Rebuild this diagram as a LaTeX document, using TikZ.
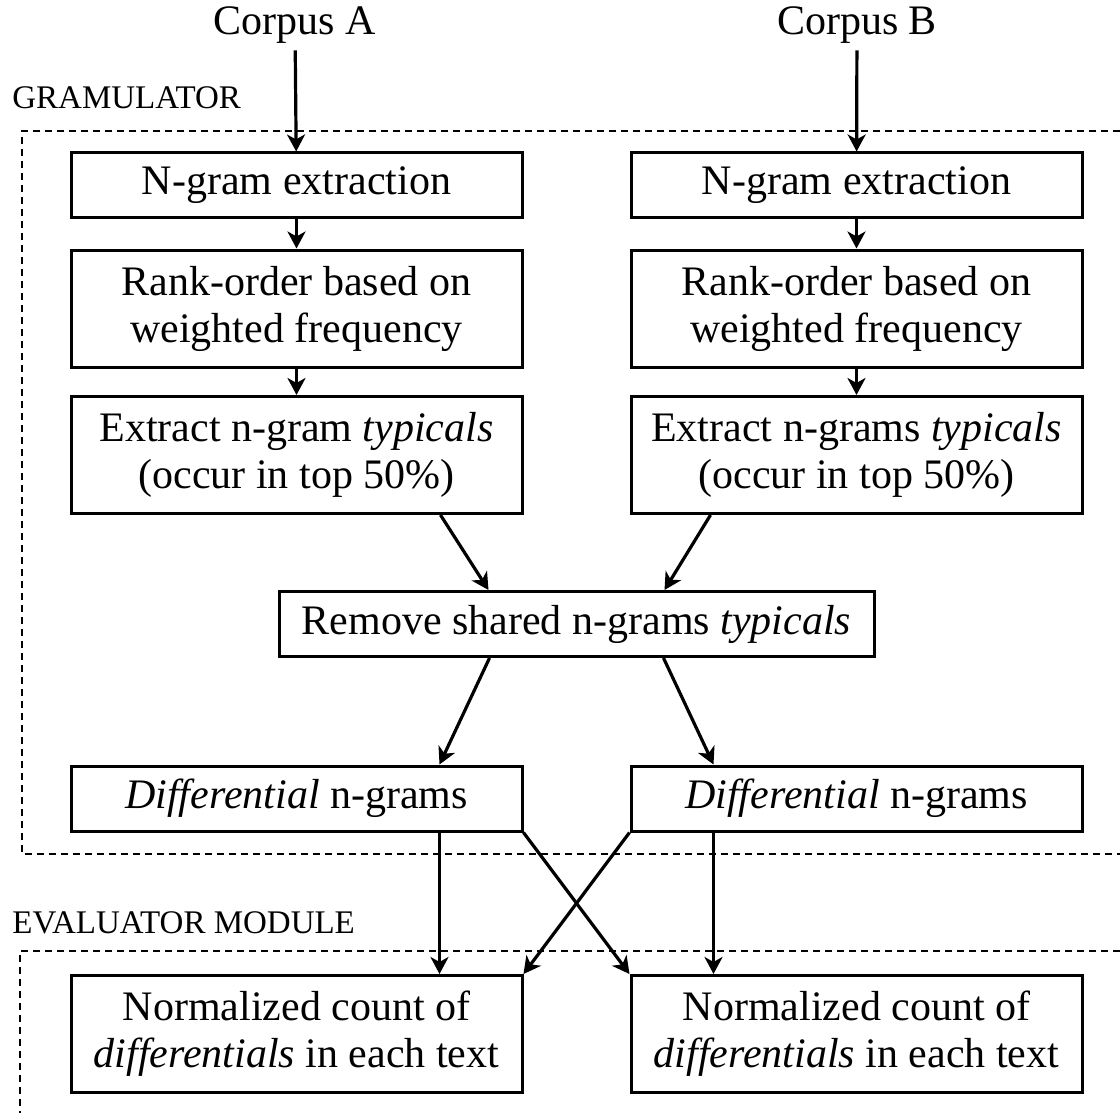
\documentclass[tikz,border=0pt]{standalone}
\usepackage{fontspec}
\setmainfont{Liberation Serif}
\usetikzlibrary{arrows.meta,positioning}

\begin{document}
\begin{tikzpicture}[
    x=0.5pt, y=-0.5pt,
    font=\fontsize{21}{23.5}\selectfont,
    procbox/.style={rectangle, draw, line width=1.5pt, align=center,
                    minimum width=225.5pt, minimum height=32.5pt, inner sep=0pt},
    tallbox/.style={procbox, minimum height=58.5pt},
    flow/.style={-{Stealth[length=8.5pt, width=9pt, inset=2.5pt]}, line width=1.6pt},
    modulebox/.style={dashed, dash pattern=on 3.5pt off 2.5pt, line width=1.3pt},
    modlabel/.style={anchor=west, inner sep=0pt, font=\fontsize{16.5}{18}\selectfont}
]
\useasboundingbox (0,0) rectangle (1120,1113);
\clip (0,0) rectangle (1120,1113);

% Inputs
\node (corpA) at (295, 25) {Corpus A};
\node (corpB) at (857, 25) {Corpus B};

% Module frames
\node[modlabel] (gramlab) at (12, 98) {GRAMULATOR};
\draw[modulebox] (1120,131) -- (22,131) -- (22,854) -- (1120,854);
\node[modlabel] (evallab) at (12, 923) {EVALUATOR MODULE};
\draw[modulebox] (1120,951) -- (20,951) -- (20,1113);

% Left column
\node[procbox] (ngA) at (296.5, 185.5) {N-gram extraction};
\node[tallbox] (rankA) at (296.5, 308.5) {Rank-order based on\\weighted frequency};
\node[tallbox] (extA) at (296.5, 455) {Extract n-gram \textit{typicals}\\(occur in top 50\%)};

% Right column
\node[procbox] (ngB) at (856.5, 185.5) {N-gram extraction};
\node[tallbox] (rankB) at (856.5, 308.5) {Rank-order based on\\weighted frequency};
\node[tallbox] (extB) at (856.5, 455) {Extract n-grams \textit{typicals}\\(occur in top 50\%)};

% Merge
\node[procbox, minimum width=297.5pt] (remove) at (576.5, 624) {Remove shared n-grams \textit{typicals}};

\node[procbox] (diffA) at (296.5, 798.5) {\textit{Differential} n-grams};
\node[procbox] (diffB) at (856.5, 798.5) {\textit{Differential} n-grams};

% Evaluator
\node[tallbox] (normA) at (296.5, 1034) {Normalized count of\\\textit{differentials} in each text};
\node[tallbox] (normB) at (856.5, 1034) {Normalized count of\\\textit{differentials} in each text};

% Arrows down the columns
\draw[flow] (corpA) -- (ngA);
\draw[flow] (corpB) -- (ngB);
\draw[flow] (ngA) -- (rankA);
\draw[flow] (ngB) -- (rankB);
\draw[flow] (rankA) -- (extA);
\draw[flow] (rankB) -- (extB);

% Into and out of the merge
\draw[flow] ([xshift=72pt]extA.south) -- ([xshift=-44pt]remove.north);
\draw[flow] ([xshift=-73pt]extB.south) -- ([xshift=44pt]remove.north);
\draw[flow] ([xshift=-43.5pt]remove.south) -- ([xshift=71.5pt]diffA.north);
\draw[flow] ([xshift=43.5pt]remove.south) -- ([xshift=-71.5pt]diffB.north);

% To the evaluator
\draw[flow] ([xshift=71.5pt]diffA.south) -- ([xshift=71.5pt]normA.north);
\draw[flow] ([xshift=-71.5pt]diffB.south) -- ([xshift=-71.5pt]normB.north);
\draw[flow] (diffA.south east) -- (normB.north west);
\draw[flow] (diffB.south west) -- (normA.north east);

\end{tikzpicture}
\end{document}
